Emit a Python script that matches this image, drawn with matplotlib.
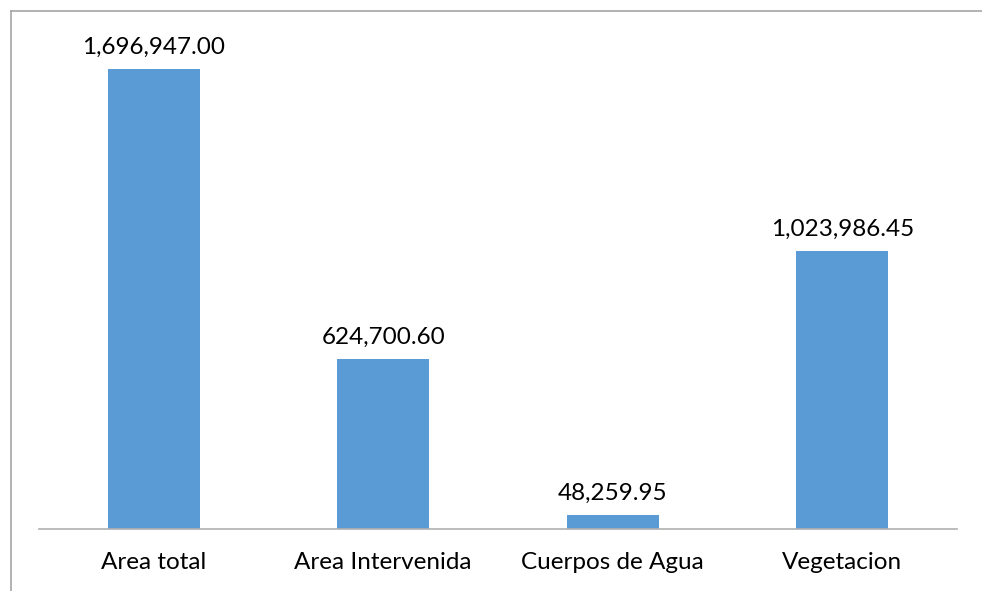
import matplotlib.pyplot as plt
from matplotlib.lines import Line2D

categories = ['Area total', 'Area Intervenida', 'Cuerpos de Agua', 'Vegetacion']
values = [1696947.00, 624700.60, 48259.95, 1023986.45]

W, H = 982, 591
fig = plt.figure(figsize=(W / 100, H / 100), dpi=100)
plt.rcParams['font.family'] = ['Lato', 'DejaVu Sans']

# outer chart frame (only top and left edges visible in the crop)
fx, fy = 10.5 / W, 1 - 11 / H
fig.add_artist(Line2D([fx, fx], [0, fy], transform=fig.transFigure,
                      color='#a6a6a6', linewidth=1.2))
fig.add_artist(Line2D([fx, 1], [fy, fy], transform=fig.transFigure,
                      color='#a6a6a6', linewidth=1.2))

ax = fig.add_axes([39 / W, (H - 528.5) / H, (957 - 39) / W, (528.5 - 41) / H])
x = range(len(categories))
ax.bar(x, values, width=0.4, color='#5b9bd5', zorder=2)

for xi, v in zip(x, values):
    ax.annotate(f'{v:,.2f}', (xi, v), xytext=(0, 8), textcoords='offset points',
                ha='center', va='bottom', fontsize=17.5, color='#000000')

ax.set_xlim(-0.5, 3.5)
ax.set_ylim(0, 1800000)
ax.set_xticks(list(x))
ax.set_xticklabels(categories, fontsize=17.5)
ax.tick_params(axis='x', length=0, pad=17)
ax.set_yticks([])
for side in ['top', 'left', 'right']:
    ax.spines[side].set_visible(False)
ax.spines['bottom'].set_color('#b0b0b0')
ax.spines['bottom'].set_linewidth(1.2)
ax.patch.set_alpha(0)

fig.savefig('out.png', dpi=100)
